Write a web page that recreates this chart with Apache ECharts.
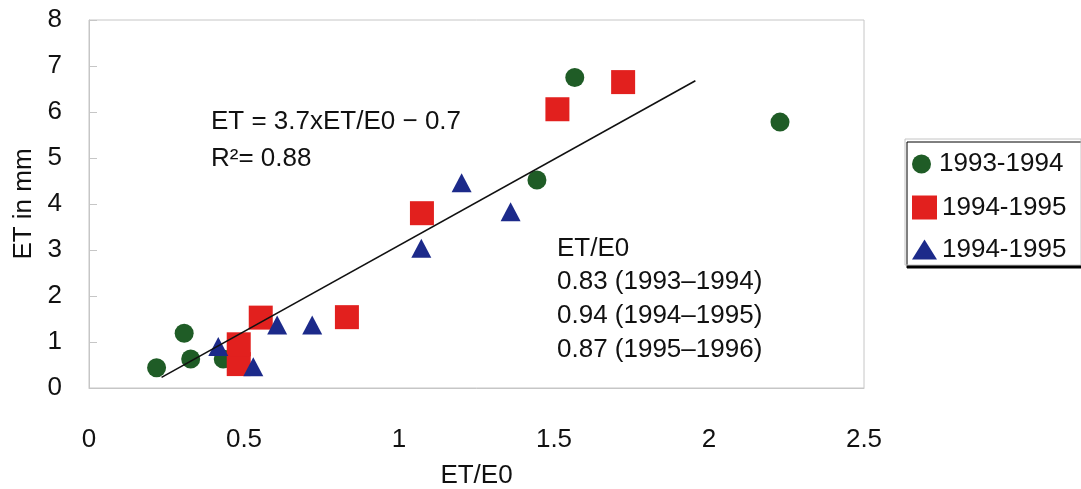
<!DOCTYPE html>
<html><head><meta charset="utf-8">
<script src="https://cdn.jsdelivr.net/npm/echarts@6/dist/echarts.min.js"></script>
<style>html,body{margin:0;padding:0;background:#fff}#c{width:1081px;height:489px}</style>
</head><body><div id="c"></div>
<script>
const xTicks = [0, 0.5, 1, 1.5, 2, 2.5];
const yTicks = [0, 1, 2, 3, 4, 5, 6, 7, 8];
const seriesNames = ['1993-1994', '1994-1995', '1994-1995 '];
const greenX = [0.218, 0.307, 0.328, 0.433, 1.445, 1.567, 2.229];
const greenY = [0.44, 1.19, 0.63, 0.63, 4.52, 6.75, 5.78];
const redX = [0.483, 0.483, 0.554, 0.832, 1.074, 1.511, 1.723];
const redY = [0.52, 0.95, 1.53, 1.54, 3.80, 6.06, 6.65];
const blueX = [0.417, 0.530, 0.607, 0.720, 1.072, 1.202, 1.360];
const blueY = [0.90, 0.46, 1.37, 1.37, 3.04, 4.46, 3.83];
const fitX = [0.234, 1.956];
const fitY = [0.23, 6.68];
const eqLines = ['ET = 3.7xET/E0 − 0.7', 'R²= 0.88'];
const ratioLines = ['ET/E0', '0.83 (1993–1994)', '0.94 (1994–1995)', '0.87 (1995–1996)'];

const FONT = '"Liberation Sans", Arial, sans-serif';
const FS = 26;
const zip = (a, b) => a.map((v, i) => [v, b[i]]);
const colors = ['#1f5c26', '#e2201e', '#1c2a8a'];
const symbols = ['circle', 'rect', 'triangle'];
const sizes = [19, 24, [20, 19]];
const legendSizes = [[25, 19], [25, 24], [25, 20]];
const legendTops = [151, 194.5, 236.5];
const pts = [zip(greenX, greenY), zip(redX, redY), zip(blueX, blueY)];

const chart = echarts.init(document.getElementById('c'), null, {renderer: 'canvas'});
const graphics = [
  {type: 'rect', shape: {x: 905, y: 139, width: 176, height: 126},
   style: {fill: '#fff', stroke: '#c4c4c4', lineWidth: 1, shadowColor: '#000', shadowOffsetX: 2, shadowOffsetY: 3, shadowBlur: 0}, z: 0}
];
eqLines.forEach((t, i) => graphics.push({type: 'text', x: 211, y: 122 + i * 37,
  style: {text: t, font: FS + 'px ' + FONT, fill: '#111', textVerticalAlign: 'middle'}, z: 10}));
ratioLines.forEach((t, i) => graphics.push({type: 'text', x: 557, y: 248.5 + i * 33.8,
  style: {text: t, font: FS + 'px ' + FONT, fill: '#111', textVerticalAlign: 'middle'}, z: 10}));

chart.setOption({
  animation: false,
  backgroundColor: '#fff',
  grid: {left: 89, right: 217, top: 20, bottom: 101, show: true, borderColor: '#c6c6c6', borderWidth: 1,
    backgroundColor: '#fff', containLabel: false, outerBoundsMode: 'none'},
  legend: seriesNames.map((n, i) => ({
    data: [{name: n, icon: symbols[i]}], orient: 'vertical', left: 912, top: legendTops[i], padding: 0,
    itemWidth: legendSizes[i][0], itemHeight: legendSizes[i][1], itemGap: 0,
    textStyle: {fontSize: FS, fontFamily: FONT, color: '#111'}, selectedMode: false
  })),
  xAxis: {type: 'value', min: 0, max: 2.5, interval: 0.5, name: 'ET/E0', nameLocation: 'middle', nameGap: 75,
    nameTextStyle: {fontSize: FS, fontFamily: FONT, color: '#111'},
    axisLine: {show: true, lineStyle: {color: '#c6c6c6'}}, axisTick: {show: false}, splitLine: {show: false},
    axisLabel: {fontSize: FS, fontFamily: FONT, color: '#111', margin: 39, formatter: v => String(v)}},
  yAxis: {type: 'value', min: 0, max: 8, interval: 1, name: 'ET in mm', nameLocation: 'middle', nameGap: 52,
    nameTextStyle: {fontSize: FS, fontFamily: FONT, color: '#111'},
    axisLine: {show: true, lineStyle: {color: '#c6c6c6'}}, axisTick: {show: true, inside: true, length: 8, lineStyle: {color: '#c6c6c6'}},
    splitLine: {show: false},
    axisLabel: {fontSize: FS, fontFamily: FONT, color: '#111', margin: 27}},
  graphic: graphics,
  series: seriesNames.map((n, i) => ({
    name: n, type: 'scatter', data: pts[i], symbol: symbols[i], symbolSize: sizes[i],
    itemStyle: {color: colors[i], opacity: 1}, z: 2 + i
  })).concat([{
    name: 'fit', type: 'line', data: zip(fitX, fitY), showSymbol: false, symbol: 'none',
    lineStyle: {color: '#111', width: 1.6}, z: 6, silent: true
  }])
});
</script></body></html>
